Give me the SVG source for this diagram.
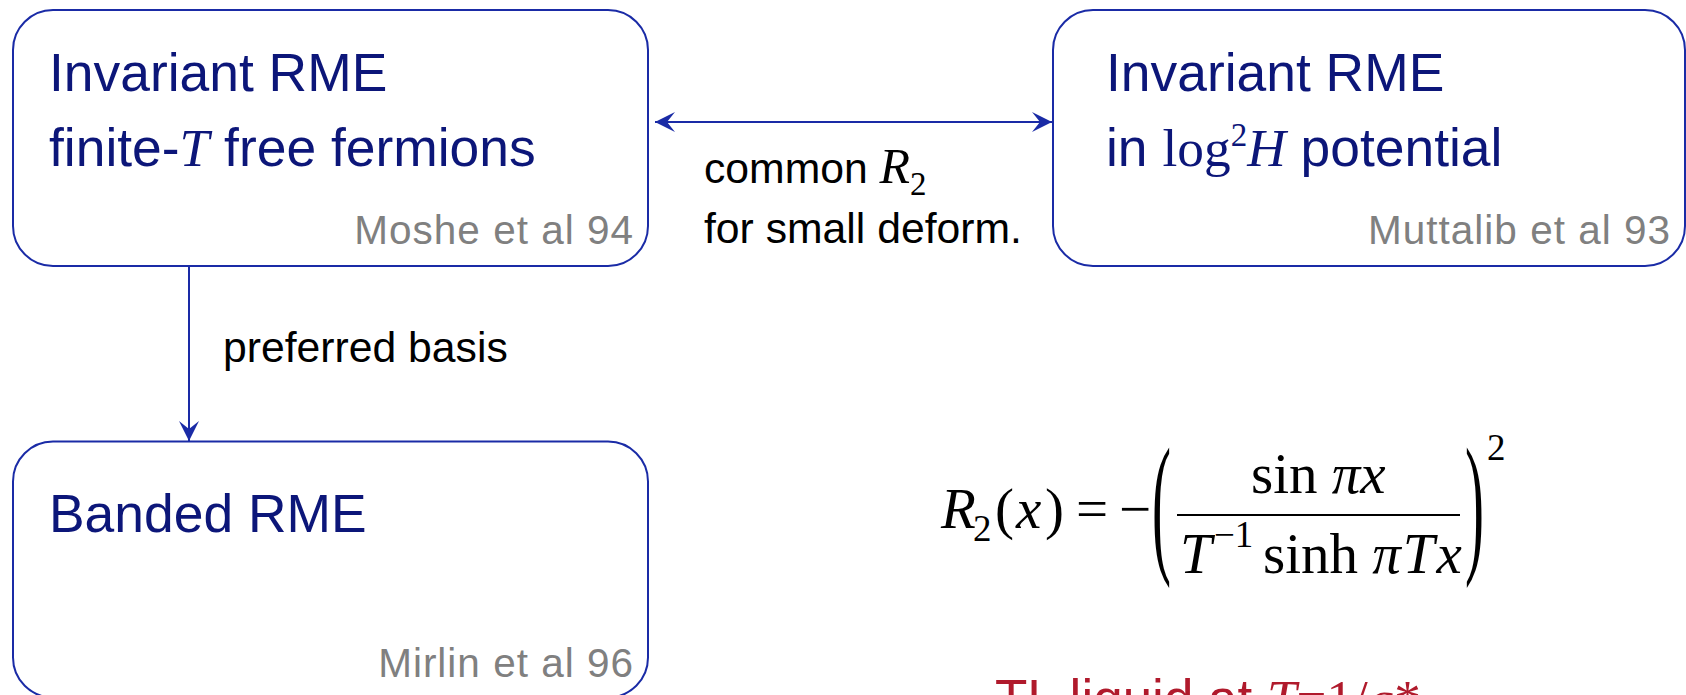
<svg xmlns="http://www.w3.org/2000/svg" width="1686" height="695" viewBox="0 0 1686 695">
<style>
.box{fill:#ffffff;stroke:#1a2ba6;stroke-width:2}
.title{font-family:"Liberation Sans",Arial,sans-serif;font-size:53.4px;fill:#0c1679}
.ref{font-family:"Liberation Sans",Arial,sans-serif;font-size:40.5px;fill:#808080;letter-spacing:1px}
.lbl{font-family:"Liberation Sans",Arial,sans-serif;font-size:42.7px;fill:#000000}
.m{font-family:"Liberation Serif","Times New Roman",serif}
.i{font-style:italic}
.eq{font-family:"Liberation Serif","Times New Roman",serif;font-size:57px;fill:#000000}
.sm{font-size:37px}
.conn{stroke:#1a2ba6;stroke-width:2;fill:none}
.red{font-family:"Liberation Sans",Arial,sans-serif;font-size:53px;fill:#b01a2c}
</style>
<defs>
<marker id="ah" markerUnits="userSpaceOnUse" markerWidth="24" markerHeight="24" viewBox="-22 -12 24 24" refX="0" refY="0" orient="auto-start-reverse">
<path d="M0,0 L-20,-10 L-12,0 L-20,10 Z" fill="#1a2ba6"/>
</marker>
</defs>

<g id="connectors">
<line class="conn" x1="655" y1="122" x2="1052" y2="122" marker-start="url(#ah)" marker-end="url(#ah)"/>
<line class="conn" x1="189" y1="266" x2="189" y2="441" marker-end="url(#ah)"/>
<text class="lbl" x="704" y="183">common <tspan class="m i" style="font-size:50px">R</tspan><tspan class="m" style="font-size:33px" dy="12">2</tspan></text>
<text class="lbl" x="704" y="243">for small deform.</text>
<text class="lbl" x="223" y="362">preferred basis</text>
</g>

<g id="node-invariant-ft">
<rect class="box" x="13" y="10" width="635" height="256" rx="40" ry="40"/>
<text class="title" x="49" y="90.5">Invariant RME</text>
<text class="title" x="49" y="166">finite-<tspan class="m i">T</tspan> free fermions</text>
<text class="ref" x="634" y="244" text-anchor="end">Moshe et al 94</text>
</g>

<g id="node-invariant-log">
<rect class="box" x="1053" y="10" width="632" height="256" rx="40" ry="40"/>
<text class="title" x="1106" y="90.5">Invariant RME</text>
<text class="title" x="1106" y="166">in <tspan class="m">log</tspan><tspan class="m" style="font-size:33px" dy="-20">2</tspan><tspan class="m i" dy="20">H</tspan> potential</text>
<text class="ref" x="1671" y="244" text-anchor="end">Muttalib et al 93</text>
</g>

<g id="node-banded">
<rect class="box" x="13" y="441.5" width="635" height="256" rx="40" ry="40"/>
<text class="title" x="49" y="532">Banded RME</text>
<text class="ref" x="634" y="677" text-anchor="end">Mirlin et al 96</text>
</g>

<g id="formula">
<text class="eq i" x="941" y="528">R</text>
<text class="eq sm" x="973" y="541">2</text>
<text class="eq" x="995" y="528">(</text>
<text class="eq i" x="1016" y="528">x</text>
<text class="eq" x="1045" y="528">)</text>
<text class="eq" x="1076" y="528">=</text>
<text class="eq" x="1119" y="528">−</text>
<text class="eq" transform="translate(1152,555) scale(1,2.7)">(</text>
<line x1="1177" y1="515" x2="1460" y2="515" stroke="#000" stroke-width="2"/>
<text class="eq" x="1251" y="493">sin <tspan class="i">πx</tspan></text>
<text class="eq i" x="1180" y="573">T</text>
<text class="eq sm" x="1214" y="547">−1</text>
<text class="eq" x="1263" y="573">sinh <tspan class="i" letter-spacing="2">πTx</tspan></text>
<text class="eq" transform="translate(1465,555) scale(1,2.7)">)</text>
<text class="eq sm" x="1487" y="460">2</text>
</g>

<text class="red" x="995" y="717">TL liquid at <tspan class="m i">T</tspan><tspan class="m">=1/</tspan><tspan class="m i">g</tspan><tspan class="m">*</tspan></text>
</svg>
